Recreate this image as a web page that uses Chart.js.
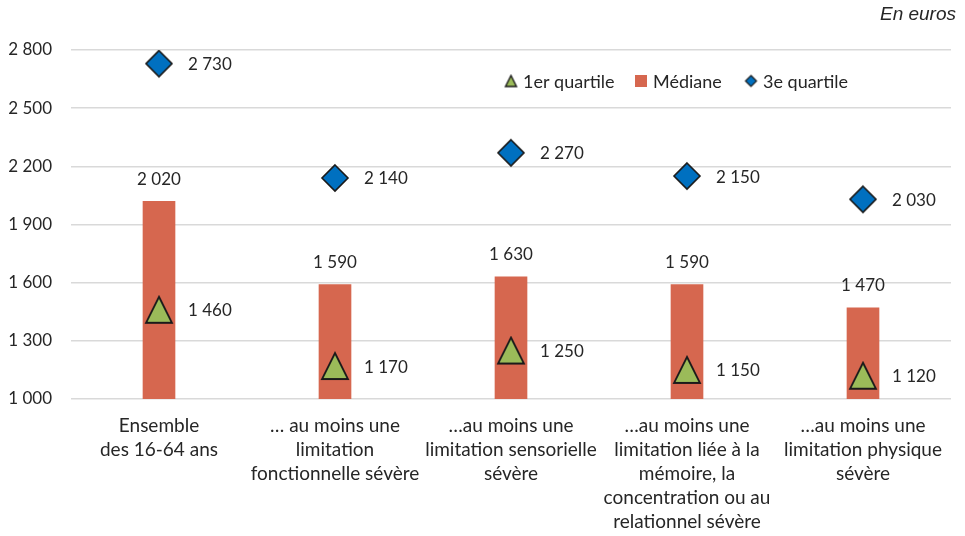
<!DOCTYPE html>
<html lang="fr">
<head>
<meta charset="utf-8">
<script src="https://cdn.jsdelivr.net/npm/chart.js@4.4.1/dist/chart.umd.min.js"></script>
<style>
  html, body { margin:0; padding:0; background:#fff; }
  #wrap { position:relative; width:965px; height:536px; }
  #unit { position:absolute; right:9px; top:3px; font:italic 19px "Liberation Sans", Arial, sans-serif; color:#262626; }
</style>
</head>
<body>
<div id="wrap">
  <canvas id="chart" width="965" height="536"></canvas>
  <div id="unit">En euros</div>
</div>
<script>
// ── données ──────────────────────────────────────────────
const CATEGORIES = [
  ['Ensemble', 'des 16-64 ans'],
  ['… au moins une', 'limitation', 'fonctionnelle sévère'],
  ['…au moins une', 'limitation sensorielle', 'sévère'],
  ['…au moins une', 'limitation liée à la', 'mémoire, la', 'concentration ou au', 'relationnel sévère'],
  ['…au moins une', 'limitation physique', 'sévère'],
];
const Q1      = [1460, 1170, 1250, 1150, 1120];
const MEDIANE = [2020, 1590, 1630, 1590, 1470];
const Q3      = [2730, 2140, 2270, 2150, 2030];
const SERIES  = ['1er quartile', 'Médiane', '3e quartile'];
const Y_MIN = 1000, Y_MAX = 2800, Y_STEP = 300;

const C = {
  bar:   '#D6674F',
  tri:   '#9BBB59',
  dia:   '#0070C0',
  text:  '#262626',
  grid:  '#D9D9D9',
};
const FONT = 'Lato, "Open Sans", sans-serif';

const fmt = v => String(v).replace(/\B(?=(\d{3})+(?!\d))/g, ' ');

// marqueurs dessinés sur un petit canvas (centre = centre de la boîte)
function marker(shape, size, fill, lw) {
  const pad = 2, s = size + pad * 2;
  const cv = document.createElement('canvas');
  cv.width = s; cv.height = s;
  const g = cv.getContext('2d');
  g.beginPath();
  if (shape === 'tri') {
    g.moveTo(s / 2, pad);
    g.lineTo(s - pad, s - pad);
    g.lineTo(pad, s - pad);
  } else {
    g.moveTo(s / 2, pad);
    g.lineTo(s - pad, s / 2);
    g.lineTo(s / 2, s - pad);
    g.lineTo(pad, s / 2);
  }
  g.closePath();
  g.fillStyle = fill; g.fill();
  g.lineWidth = lw; g.strokeStyle = '#1a1a1a'; g.lineJoin = 'miter'; g.stroke();
  return cv;
}

const triBig = marker('tri', 26, C.tri, 1.8);
const diaBig = marker('dia', 26, C.dia, 1.6);
const triSm  = marker('tri', 11, C.tri, 1.4);
const diaSm  = marker('dia', 11, C.dia, 1.2);

// ── étiquettes de valeurs ────────────────────────────────
const valueLabels = {
  id: 'valueLabels',
  afterDatasetsDraw(chart) {
    const ctx = chart.ctx;
    ctx.save();
    ctx.font = '17px ' + FONT;
    ctx.fillStyle = C.text;
    chart.data.datasets.forEach((ds, di) => {
      const meta = chart.getDatasetMeta(di);
      meta.data.forEach((el, i) => {
        const v = ds.data[i];
        if (ds.type === 'bar') {
          ctx.textAlign = 'center'; ctx.textBaseline = 'middle';
          ctx.fillText(fmt(v), el.x, el.y - 22);
        } else {
          ctx.textAlign = 'left'; ctx.textBaseline = 'middle';
          ctx.fillText(fmt(v), el.x + 29, el.y + 1);
        }
      });
    });
    ctx.restore();
  }
};

// ── légende interne ──────────────────────────────────────
const innerLegend = {
  id: 'innerLegend',
  afterDraw(chart) {
    const ctx = chart.ctx;
    const y = 81;
    const items = [
      { x: 511, draw: (x) => ctx.drawImage(triSm, x - triSm.width / 2, y - triSm.height / 2), label: SERIES[0] },
      { x: 641, draw: (x) => { ctx.fillStyle = C.bar; ctx.fillRect(x - 6, y - 6, 12, 12); }, label: SERIES[1] },
      { x: 751, draw: (x) => ctx.drawImage(diaSm, x - diaSm.width / 2, y - diaSm.height / 2), label: SERIES[2] },
    ];
    ctx.save();
    ctx.font = '18px ' + FONT;
    ctx.textAlign = 'left'; ctx.textBaseline = 'middle';
    items.forEach(it => {
      it.draw(it.x);
      ctx.fillStyle = C.text;
      ctx.fillText(it.label, it.x + 12, y + 1);
    });
    ctx.restore();
  }
};

new Chart(document.getElementById('chart').getContext('2d'), {
  type: 'bar',
  data: {
    labels: CATEGORIES,
    datasets: [
      { type: 'line', label: SERIES[0], data: Q1, showLine: false, pointStyle: triBig,
        pointRadius: 13, pointHoverRadius: 13, order: 0 },
      { type: 'line', label: SERIES[2], data: Q3, showLine: false, pointStyle: diaBig,
        pointRadius: 13, pointHoverRadius: 13, order: 0 },
      { type: 'bar', label: SERIES[1], data: MEDIANE, backgroundColor: C.bar,
        barThickness: 32, order: 1 },
    ],
  },
  options: {
    responsive: false, animation: false,
    layout: { padding: { top: 50, right: 13, left: 0, bottom: 0 } },
    plugins: { legend: { display: false }, tooltip: { enabled: false } },
    scales: {
      x: {
        grid: { display: false, drawTicks: false },
        border: { display: false },
        ticks: { font: { size: 19, family: FONT, lineHeight: 24 / 19 }, color: C.text, padding: 15,
                 maxRotation: 0, autoSkip: false },
        afterFit: s => { s.height = 137; },
      },
      y: {
        min: Y_MIN, max: Y_MAX,
        grid: { color: C.grid, lineWidth: 1.5, drawTicks: false },
        border: { display: false },
        ticks: { stepSize: Y_STEP, font: { size: 17, family: FONT }, color: C.text, padding: 19,
                 callback: v => fmt(v) },
        afterFit: s => { s.width = 71; },
      },
    },
  },
  plugins: [valueLabels, innerLegend],
});
</script>
</body>
</html>
